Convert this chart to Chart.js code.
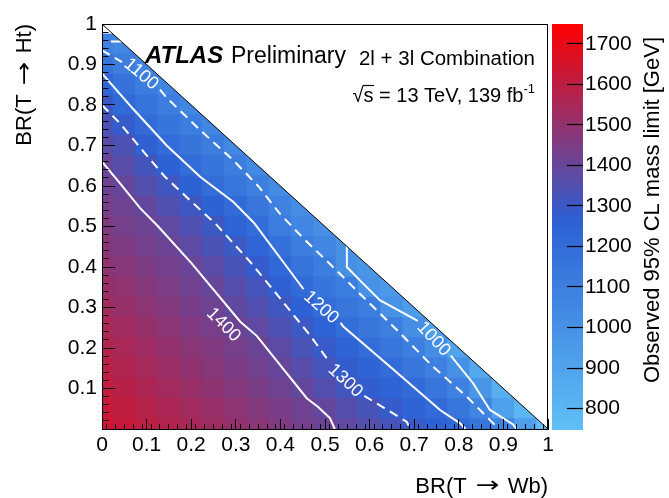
<!DOCTYPE html>
<html><head><meta charset="utf-8">
<script src="https://cdn.jsdelivr.net/npm/chart.js@4.4.1/dist/chart.umd.min.js"></script>
<style>
html,body{margin:0;padding:0;background:#fff;}
#wrap{position:relative;width:669px;height:498px;overflow:hidden;}
#wrap canvas{position:absolute;left:0;top:0;}
</style></head><body>
<div id="wrap"><canvas id="main" width="669" height="498"></canvas><canvas id="cbar" width="669" height="498"></canvas></div>
<script>
// ---- grid of branching ratios (bin centres) ----
const brWb = [0,0.05,0.1,0.15,0.2,0.25,0.3,0.35,0.4,0.45,0.5,0.55,0.6,0.65,0.7,0.75,0.8,0.85,0.9,0.95,1.0];
const brHt = [0,0.05,0.1,0.15,0.2,0.25,0.3,0.35,0.4,0.45,0.5,0.55,0.6,0.65,0.7,0.75,0.8,0.85,0.9,0.95,1.0];

// ---- observed 95% CL mass limit [GeV], one row per BR(T->Ht); entry i <-> brWb[i] ----
const row00 = [1640,1617,1594,1571,1548,1525,1502,1478,1455,1432,1409,1382,1353,1324,1292,1252,1212,1153,1075,930,755];
const row01 = [1625,1602,1579,1556,1533,1510,1487,1464,1441,1418,1393,1359,1325,1288,1246,1204,1149,1072,922,800];
const row02 = [1608,1584,1561,1537,1513,1490,1466,1442,1419,1392,1355,1317,1279,1241,1203,1149,1089,973,840];
const row03 = [1590,1566,1543,1519,1495,1471,1448,1424,1400,1361,1321,1281,1241,1200,1148,1093,1000,870];
const row04 = [1572,1549,1526,1502,1479,1456,1433,1409,1375,1333,1291,1244,1197,1148,1097,1021,900];
const row05 = [1553,1530,1506,1483,1459,1436,1412,1381,1342,1302,1248,1194,1147,1100,1017,920];
const row06 = [1534,1510,1487,1463,1439,1416,1387,1350,1312,1257,1195,1149,1101,996,940];
const row07 = [1514,1491,1468,1444,1421,1397,1359,1322,1271,1203,1152,1103,996,960];
const row08 = [1494,1471,1449,1426,1404,1369,1331,1289,1222,1161,1105,1000,975];
const row09 = [1474,1452,1430,1409,1375,1338,1301,1240,1176,1108,1053,1000];
const row10 = [1455,1433,1413,1382,1345,1307,1251,1195,1113,1059,1010];
const row11 = [1436,1414,1389,1348,1308,1253,1205,1145,1085,1020];
const row12 = [1420,1396,1353,1311,1256,1197,1146,1100,1030];
const row13 = [1404,1363,1318,1258,1195,1151,1107,1040];
const row14 = [1371,1339,1271,1198,1152,1107,1050];
const row15 = [1335,1288,1205,1152,1104,1055];
const row16 = [1300,1219,1161,1110,1060];
const row17 = [1236,1170,1112,1065];
const row18 = [1158,1108,1065];
const row19 = [1088,1060];
const row20 = [null];
const limitRows = [row00,row01,row02,row03,row04,row05,row06,row07,row08,row09,row10,row11,row12,row13,row14,row15,row16,row17,row18,row19,row20];

// ---- contour lines [BR(Wb), BR(Ht)], null = break ----
const contour1000 = [[0.02,0.957],[0.045,0.957],null,[0.549,0.451],[0.549,0.40],[0.58,0.365],[0.623,0.318],[0.708,0.267],null,[0.782,0.181],[0.832,0.113],[0.87,0.047],[0.921,0.012],[0.93,0.0]];
const contour1100 = [[0,0.935],[0.045,0.906],null,[0.13,0.838],[0.145,0.818],[0.22,0.738],[0.294,0.664],[0.35,0.60],[0.40,0.53],[0.455,0.467],[0.518,0.40],[0.593,0.318],[0.668,0.237],[0.742,0.154],[0.818,0.08],[0.87,0.022],[0.89,0.0]];
const contour1200 = [[0,0.878],[0.07,0.79],[0.145,0.70],[0.22,0.623],[0.294,0.561],[0.34,0.51],[0.452,0.345],null,[0.535,0.262],[0.541,0.253],[0.65,0.15],[0.758,0.047],[0.803,0.014],[0.815,0.0]];
const contour1300 = [[0,0.80],[0.04,0.755],[0.093,0.685],[0.141,0.623],[0.197,0.565],[0.257,0.504],[0.332,0.413],[0.399,0.323],[0.466,0.232],[0.507,0.17],null,[0.588,0.082],[0.683,0.018],[0.692,0.0]];
const contour1400 = [[0,0.66],[0.04,0.607],[0.085,0.546],[0.126,0.50],[0.2,0.41],[0.31,0.265],[0.347,0.23],[0.459,0.076],[0.484,0.055],[0.511,0.027],[0.522,0.0]];
const contourLevels = ['1000','1100','1200','1300','1400'];

// colour scale
const zMin = 747, zMax = 1749;
const zTicks = [800,900,1000,1100,1200,1300,1400,1500,1600,1700];

// ---- styling ----
const FONT = '"Liberation Sans", Arial, Helvetica, sans-serif';
const ARROWFONT = '"DejaVu Sans", sans-serif';
Chart.defaults.font.family = FONT;
Chart.defaults.color = '#000';
const paletteStops = [[0,[96,192,246]],[0.517,[44,96,212]],[1,[255,0,0]]];
function limitColor(v){
  const t = Math.min(1, Math.max(0, (v - zMin)/(zMax - zMin)));
  for (let k = 1; k < paletteStops.length; k++){
    const [t1,c1] = paletteStops[k-1], [t2,c2] = paletteStops[k];
    if (t <= t2){
      const f = (t - t1)/(t2 - t1);
      return 'rgb(' + c1.map((c,n)=>Math.round(c + f*(c2[n]-c))).join(',') + ')';
    }
  }
  return 'rgb(255,0,0)';
}
const halfCell = (brHt[1]-brHt[0])/2;

const heatSets = limitRows.map((row, j) => {
  const pts = [], cols = [];
  row.forEach((v, i) => {
    if (v === null) return;
    pts.push({x: brWb[i], y: [brHt[j]-halfCell, brHt[j]+halfCell]});
    cols.push(limitColor(v));
  });
  return {type:'bar', data:pts, backgroundColor:cols, borderWidth:0, barPercentage:1, categoryPercentage:1,
          grouped:false, clip:0, order:3, inflateAmount:0.5, xAxisID:'x', yAxisID:'y'};
});

function toLine(pts){
  let lastX = 0;
  return pts.map(p => { if (p){ lastX = p[0]; return {x:p[0], y:p[1]}; } return {x:lastX, y:null}; });
}
const contourStyle = [
  {pts:contour1000, dash:[]},
  {pts:contour1100, dash:[9,6]},
  {pts:contour1200, dash:[]},
  {pts:contour1300, dash:[9,6]},
  {pts:contour1400, dash:[]}
];
const contourSets = contourStyle.map((c, k) => ({
  type:'line', label:contourLevels[k], data:toLine(c.pts), borderColor:'#fff', borderWidth:2,
  borderDash:c.dash, pointRadius:0, fill:false, tension:0, spanGaps:false, order:1, xAxisID:'x', yAxisID:'y'
}));
const triangleSet = {type:'line', data:[{x:0,y:1},{x:1,y:0}], borderColor:'#000', borderWidth:1,
  backgroundColor:'#fff', fill:'end', pointRadius:0, order:0, xAxisID:'x', yAxisID:'y'};

const contourLabels = [
  {level:1, x:0.089, y:0.878, angle:40},
  {level:2, x:0.4926, y:0.302, angle:42},
  {level:3, x:0.547, y:0.121, angle:43},
  {level:4, x:0.274, y:0.259, angle:45},
  {level:0, x:0.745, y:0.224, angle:47}
];

const labelPlugin = {
  id:'contourLabels',
  afterDatasetsDraw(chart){
    const {ctx, scales:{x, y}} = chart;
    ctx.save();
    ctx.fillStyle = '#fff';
    ctx.font = '18px ' + FONT;
    ctx.textAlign = 'center'; ctx.textBaseline = 'middle';
    contourLabels.forEach(l => {
      ctx.save();
      ctx.translate(x.getPixelForValue(l.x), y.getPixelForValue(l.y));
      ctx.rotate(l.angle*Math.PI/180);
      ctx.fillText(contourLevels[l.level], 0, 1);
      ctx.restore();
    });
    ctx.restore();
  }
};

// axis title "BR(T -> X)" drawn right-aligned ending at (0,0) in the current frame
function drawBRTitle(ctx, decay){
  const a = 'BR(T', b = decay + ')';
  ctx.font = '22px ' + FONT;
  const wa = ctx.measureText(a).width, wb = ctx.measureText(b).width;
  const arrowLen = 24, g1 = 9, g2 = 8;
  const total = wa + g1 + arrowLen + g2 + wb;
  let x = -total;
  ctx.textAlign = 'left'; ctx.textBaseline = 'middle';
  ctx.fillText(a, x, 0); x += wa + g1;
  ctx.save();
  ctx.font = '22px ' + ARROWFONT;
  const aw = ctx.measureText('\u2192').width;
  ctx.translate(x, 0); ctx.scale(arrowLen/aw, 1);
  ctx.fillText('\u2192', 0, 0);
  ctx.restore();
  x += arrowLen + g2;
  ctx.font = '22px ' + FONT;
  ctx.fillText(b, x, 0);
}

const framePlugin = {
  id:'frame',
  afterDraw(chart){
    const {ctx, chartArea:a} = chart;
    ctx.save();
    ctx.strokeStyle = '#000'; ctx.lineWidth = 1;
    ctx.strokeRect(Math.round(a.left)+0.5, Math.round(a.top)+0.5, Math.round(a.right-a.left)-1, Math.round(a.bottom-a.top));
    ctx.fillStyle = '#000';
    // axis titles
    ctx.save(); ctx.translate(a.right, 486.5); drawBRTitle(ctx, 'Wb'); ctx.restore();
    ctx.save(); ctx.translate(25, a.top); ctx.rotate(-Math.PI/2); drawBRTitle(ctx, 'Ht'); ctx.restore();
    // header text
    ctx.textBaseline = 'alphabetic'; ctx.textAlign = 'left';
    ctx.font = 'italic bold 24px ' + FONT;
    ctx.fillText('ATLAS', 145, 62.5);
    ctx.font = '23px ' + FONT;
    ctx.fillText('Preliminary', 231, 62.5);
    ctx.font = '20.5px ' + FONT;
    ctx.textAlign = 'right';
    ctx.fillText('2l + 3l Combination', 535, 65);
    ctx.font = '13px ' + FONT;
    const supW = ctx.measureText('-1').width;
    ctx.textAlign = 'left';
    ctx.fillText('-1', 535 - supW, 93);
    ctx.font = '20px ' + FONT;
    const mainTxt = '\u221As = 13 TeV, 139 fb';
    const mw = ctx.measureText(mainTxt).width;
    const x0 = 535 - supW - mw;
    ctx.fillText(mainTxt, x0, 101.5);
    const rw = ctx.measureText('\u221A').width, sw = ctx.measureText('s').width;
    ctx.beginPath(); ctx.lineWidth = 1.2;
    ctx.moveTo(x0 + rw - 1, 85.5); ctx.lineTo(x0 + rw + sw + 0.5, 85.5); ctx.stroke();
    ctx.restore();
  }
};

const fmt = v => Math.abs(v) < 1e-9 ? '0' : (Math.abs(v-1) < 1e-9 ? '1' : v.toFixed(1));
const mainPad = {left:13, right:121, top:24, bottom:0};
const mainChart = new Chart(document.getElementById('main'), {
  type:'bar',
  data:{datasets:[...heatSets, ...contourSets, triangleSet]},
  options:{
    responsive:false, animation:false, events:[],
    layout:{padding:mainPad},
    plugins:{legend:{display:false}, tooltip:{enabled:false}},
    scales:{
      x:{type:'linear', position:'bottom', min:0, max:1, offset:false,
         ticks:{stepSize:0.1, autoSkip:false, maxRotation:0, padding:14, font:{size:21}, color:'#000', callback:fmt},
         grid:{drawOnChartArea:false, tickLength:-10, tickColor:'#000', tickWidth:1, z:1, offset:false},
         border:{display:true, color:'#000', width:1, z:1},
         title:{display:false},
         afterFit:s=>{s.height=69; s.paddingLeft=0; s.paddingRight=0;}},
      xMinor:{type:'linear', axis:'x', position:{y:0}, min:0, max:1, offset:false,
         ticks:{stepSize:0.02, display:false},
         grid:{drawOnChartArea:false, tickLength:-5, tickColor:'#000', tickWidth:1, z:1},
         border:{display:false},
         afterFit:s=>{s.paddingLeft=0; s.paddingRight=0;}},
      y:{type:'linear', position:'left', min:0, max:1,
         ticks:{stepSize:0.1, autoSkip:false, padding:18, font:{size:21}, color:'#000', callback:v=>Math.abs(v)<1e-9?'':fmt(v)},
         grid:{drawOnChartArea:false, tickLength:-13, tickColor:'#000', tickWidth:1, z:1},
         border:{display:true, color:'#000', width:1, z:1},
         title:{display:false},
         afterFit:s=>{s.width=89; s.paddingTop=0; s.paddingBottom=0;}},
      yMinor:{type:'linear', axis:'y', position:{x:0}, min:0, max:1,
         ticks:{stepSize:0.02, display:false},
         grid:{drawOnChartArea:false, tickLength:-6.5, tickColor:'#000', tickWidth:1, z:1},
         border:{display:false},
         afterFit:s=>{s.paddingTop=0; s.paddingBottom=0;}}
    }
  },
  plugins:[labelPlugin, framePlugin]
});

// ---- colour bar ----
const cbarTitle = {
  id:'cbarTitle',
  afterDraw(chart){
    const ctx = chart.ctx;
    ctx.save();
    ctx.translate(653, 37);
    ctx.rotate(-Math.PI/2);
    ctx.font = '22px ' + FONT; ctx.fillStyle = '#000';
    ctx.textAlign = 'right'; ctx.textBaseline = 'middle';
    ctx.fillText('Observed 95% CL mass limit [GeV]', 0, 0);
    ctx.restore();
  }
};
const cbarPad = {left:552, right:0, top:24, bottom:68};
const cbarChart = new Chart(document.getElementById('cbar'), {
  type:'bar',
  data:{labels:['limit'], datasets:[{data:[[zMin, zMax]], borderWidth:0, barPercentage:1, categoryPercentage:1, inflateAmount:0,
    backgroundColor:(c)=>{
      const ch = c.chart, ys = ch.scales.y;
      if (!ys || ys.top === undefined) return '#4a80e0';
      const g = ch.ctx.createLinearGradient(0, ys.getPixelForValue(zMin), 0, ys.getPixelForValue(zMax));
      for (let k = 0; k <= 40; k++){ const t = k/40; g.addColorStop(t, limitColor(zMin + t*(zMax-zMin))); }
      return g;
    }}]},
  options:{
    responsive:false, animation:false, events:[],
    layout:{padding:cbarPad},
    plugins:{legend:{display:false}, tooltip:{enabled:false}},
    scales:{
      x:{display:false},
      y:{position:'right', min:zMin, max:zMax,
         afterBuildTicks:s=>{ s.ticks = zTicks.map(v=>({value:v})); },
         ticks:{padding:18, font:{size:21}, color:'#000', callback:v=>String(v)},
         grid:{drawOnChartArea:false, tickLength:-16, tickColor:'#000', tickWidth:1.2, z:1},
         border:{display:false},
         afterFit:s=>{s.width=86; s.paddingTop=0; s.paddingBottom=0;}}
    }
  },
  plugins:[cbarTitle]
});

function fitArea(chart, pad, target){
  for (let k = 0; k < 3; k++){
    const ca = chart.chartArea;
    const dl = target.left - ca.left, dr = ca.right - target.right, dt = target.top - ca.top, db = ca.bottom - target.bottom;
    if (Math.abs(dl)+Math.abs(dr)+Math.abs(dt)+Math.abs(db) < 0.5) break;
    pad.left += dl; pad.right += dr; pad.top += dt; pad.bottom += db;
    chart.options.layout.padding = {left:pad.left, right:pad.right, top:pad.top, bottom:pad.bottom};
    chart.update();
  }
}
fitArea(mainChart, mainPad, {left:102, right:548, top:24, bottom:429});
fitArea(cbarChart, cbarPad, {left:552, right:583, top:24, bottom:430});
</script>
</body></html>
